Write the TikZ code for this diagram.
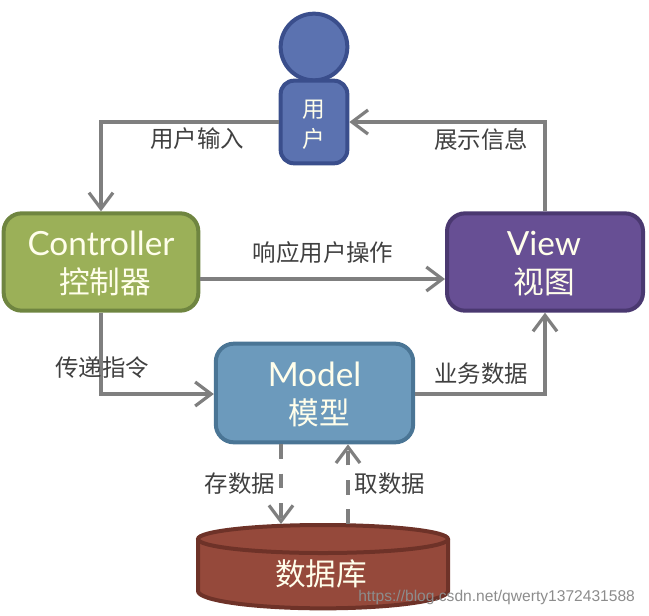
\documentclass[tikz,border=0pt]{standalone}
\usepackage{fontspec}
\setmainfont{Noto Sans CJK SC}
\newfontfamily\latinfont{Lato}
\newfontfamily\wmfont{Liberation Sans}
\usetikzlibrary{arrows.meta,calc}
\definecolor{arrowgray}{HTML}{7F7F7F}
\definecolor{labelgray}{HTML}{404040}
\definecolor{userfill}{HTML}{5B72B0}
\definecolor{userline}{HTML}{3A4E8C}
\definecolor{ctrlfill}{HTML}{9BB058}
\definecolor{ctrlline}{HTML}{6F8540}
\definecolor{viewfill}{HTML}{674F94}
\definecolor{viewline}{HTML}{4A3870}
\definecolor{modelfill}{HTML}{6C9ABC}
\definecolor{modelline}{HTML}{4A7595}
\definecolor{dbfill}{HTML}{95493B}
\definecolor{dbline}{HTML}{6E3228}
\newcommand{\latinline}[1]{{\latinfont\fontsize{25}{28.5}\selectfont #1}}
\tikzset{
  x=0.75pt,y=-0.75pt,
  box/.style={rounded corners=13.5pt,line width=3pt,inner sep=0pt},
  boxtext/.style={inner sep=0pt,align=center,text=white!92!yellow,font=\fontsize{23}{28.5}\selectfont},
  flow/.style={draw=arrowgray,line width=2.6pt,-{Straight Barb[length=12pt,width=18pt,line width=2.4pt]}},
  dataflow/.style={flow,dash pattern=on 11pt off 11pt},
  lbl/.style={text=labelgray,inner sep=0pt,font=\fontsize{17.6}{20}\selectfont},
}
\begin{document}
\begin{tikzpicture}
\useasboundingbox (0,0) rectangle (649,615);
% user
\node[circle,draw=userline,fill=userfill,line width=3pt,minimum size=50pt,inner sep=0pt] (head) at (314,47) {};
\node[box,draw=userline,fill=userfill,rounded corners=10pt,minimum width=50pt,minimum height=62pt] (user) at (314,122) {};
\node[boxtext,font=\fontsize{17}{22.5}\selectfont] (usertext) at (314,125) {用\\户};
% boxes
\node[box,draw=ctrlline,fill=ctrlfill,minimum width=146pt,minimum height=73pt] (ctrl) at (101,262) {};
\node[boxtext] (ctrltext) at (101,263) {\latinline{Controller}\\\hspace*{6pt}控制器};
\node[box,draw=viewline,fill=viewfill,minimum width=147pt,minimum height=73pt] (view) at (545,262) {};
\node[boxtext] (viewtext) at (544,263.5) {\latinline{View}\\视图};
\node[box,draw=modelline,fill=modelfill,minimum width=148pt,minimum height=74pt] (model) at (314.5,393) {};
\node[boxtext] (modeltext) at (314.5,394.5) {\latinline{Model}\\\hspace*{7pt}模型};
% database
\coordinate (dbsave) at (281,524);
\coordinate (dbload) at (348,524);
\fill[dbfill] (198,539) -- (198,591) arc[start angle=180,end angle=360,x radius=93.75pt,y radius=13pt] -- (448,539) -- cycle;
\draw[dbline,line width=3pt] (198,539) -- (198,591) arc[start angle=180,end angle=360,x radius=93.75pt,y radius=13pt] -- (448,539);
\draw[dbline,fill=dbfill,line width=3pt] (323,539) ellipse[x radius=93.75pt,y radius=10.5pt];
\node[text=white!92!yellow,inner sep=0pt,font=\fontsize{23}{28}\selectfont] (db) at (321,574) {数据库};
% connectors
\draw[flow] (user.west |- 0,122) -| (ctrl.north);
\draw[flow] (view.north) |- (user.east |- 0,122);
\draw[flow] (ctrl.east |- 0,279) -- (view.west |- 0,279);
\draw[flow] (ctrl.south) |- (model.west |- 0,394);
\draw[flow] (model.east |- 0,394) -| (view.south);
\draw[dataflow] (model.south -| dbsave) -- (dbsave);
\draw[dataflow] (dbload) -- (model.south -| dbload);
% labels
\node[lbl] (l1) at (197,139) {用户输入};
\node[lbl] (l2) at (323,253) {响应用户操作};
\node[lbl] (l3) at (481,139) {展示信息};
\node[lbl] (l4) at (102,368) {传递指令};
\node[lbl] (l5) at (481,374) {业务数据};
\node[lbl] (l6) at (240,484) {存数据};
\node[lbl] (l7) at (390,484) {取数据};
\node[text=black!45,inner sep=0pt,anchor=west,font=\wmfont\fontsize{11.7}{14}\selectfont] (wm) at (358,597) {https://blog.csdn.net/qwerty1372431588};
\end{tikzpicture}
\end{document}
